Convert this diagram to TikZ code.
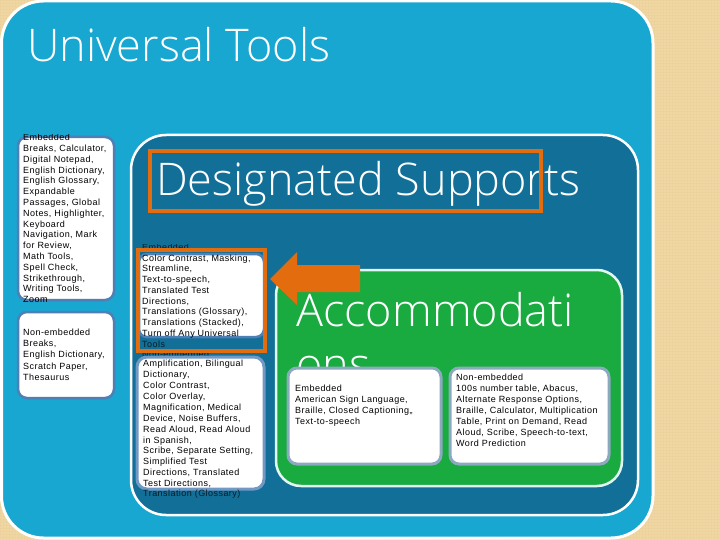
\documentclass[tikz,border=0pt]{standalone}
\usepackage{fontspec}
\setmainfont[LetterSpace=5]{Liberation Sans}
\newfontfamily\headfont{Open Sans Light}
\definecolor{tan}{HTML}{EFD6A3}
\definecolor{tandark}{HTML}{E3C486}
\definecolor{sky}{HTML}{17A7D1}
\definecolor{teal}{HTML}{126F97}
\definecolor{grn}{HTML}{19AB40}
\definecolor{org}{HTML}{E26C0E}
\definecolor{edgeA}{HTML}{4F7FB5}
\definecolor{edgeB}{HTML}{8BA9BF}
\definecolor{mint}{HTML}{E2F7F2}
\tikzset{
  x=1pt,y=-1pt,
  smallbox/.style={draw=edgeA,line width=2.5pt,fill=white,rounded corners=9pt},
  greybox/.style={draw=edgeB,line width=3pt,fill=white,rounded corners=9pt},
  body/.style={anchor=north west,inner sep=0pt,align=left,font=\fontsize{9}{10.9}\selectfont,text=black},
  dimbody/.style={body,text=black!75!teal},
  head/.style={anchor=base west,inner sep=0pt,text=white,font=\headfont\fontsize{45}{50}\selectfont},
  orangeframe/.style={draw=org,line width=4pt},
  weave/.style={tandark,line width=0.6pt,opacity=0.16}
}
\begin{document}
\begin{tikzpicture}
\useasboundingbox (0,0) rectangle (720,540);
\fill[tan] (0,0) rectangle (720,540);
\foreach \i in {0,3,...,720} {\draw[weave] (\i,0) -- (\i,540);}
\foreach \i in {0,3,...,540} {\draw[weave] (0,\i) -- (720,\i);}
\draw[white,line width=3pt,fill=sky,rounded corners=42pt] (1.5,1) rectangle (653,538);
\node[head] (t1) at (27,62) {Universal Tools};
% left boxes
\draw[smallbox] (18,137) rectangle (114,300);
\draw[smallbox] (18,312) rectangle (114,398);
\begin{scope}
\clip (15,135) rectangle (120,302);
\node[body,font=\fontsize{9}{10.8}\selectfont] (ut1) at (23,134) {Embedded\\Breaks, Calculator,\\Digital Notepad,\\English Dictionary,\\English Glossary,\\Expandable\\Passages, Global\\Notes, Highlighter,\\Keyboard\\Navigation, Mark\\for Review,\\Math Tools,\\Spell Check,\\Strikethrough,\\Writing Tools,\\Zoom};
\end{scope}
\node[body,font=\fontsize{9}{11.1}\selectfont] (ut2) at (23,329) {Non-embedded\\Breaks,\\English Dictionary,\\Scratch Paper,\\Thesaurus};
% designated
\draw[white,line width=2.5pt,fill=teal,rounded corners=35pt] (131,135) rectangle (638,515);
\node[head] (t2) at (156,196) {Designated Supports};
\begin{scope}
\clip (135,244) rectangle (270,252);
\node[dimbody] (d0) at (142,244) {Embedded};
\end{scope}
\draw[edgeA,line width=2.5pt,fill=white,rounded corners=8pt] (139,254) rectangle (264,337);
\fill[teal] (137,339) rectangle (266,351);
\node[body,font=\fontsize{9}{10.75}\selectfont] (d1) at (142,254.5) {Color Contrast, Masking,\\Streamline,\\Text-to-speech,\\Translated Test\\Directions,\\Translations (Glossary),\\Translations (Stacked),\\Turn off Any Universal};
\node[dimbody] (d1b) at (142,341) {Tools};
\begin{scope}
\clip (135,351) rectangle (270,356);
\node[dimbody] (d2) at (142,351) {Non-embedded};
\end{scope}
\draw[draw=edgeA!80!white,line width=3pt,fill=white,rounded corners=10pt] (137,357) rectangle (264,489);
\node[body] (d3) at (143,360) {Amplification, Bilingual\\Dictionary,\\Color Contrast,\\Color Overlay,\\Magnification, Medical\\Device, Noise Buffers,\\Read Aloud, Read Aloud\\in Spanish,\\Scribe, Separate Setting,\\Simplified Test\\Directions, Translated\\Test Directions,};
\node[dimbody] (d4) at (143,490) {Translation (Glossary)};
% green
\draw[mint,line width=2.5pt,fill=grn,rounded corners=25pt] (276,270) rectangle (622,486);
\node[head] (t3) at (296,326) {Accommodati};
\node[head] (t4) at (296,380) {ons};
\draw[greybox] (288,368) rectangle (441,464);
\draw[greybox] (450,368) rectangle (609,464);
\node[body] (a1) at (295,385) {Embedded\\American Sign Language,\\Braille, Closed Captioning,,\\Text-to-speech};
\node[body] (a2) at (456,374) {Non-embedded\\100s number table, Abacus,\\Alternate Response Options,\\Braille, Calculator, Multiplication\\Table, Print on Demand, Read\\Aloud, Scribe, Speech-to-text,\\Word Prediction};
% orange frames
\draw[orangeframe] (150,151) rectangle (541,211);
\draw[orangeframe] (138,250) rectangle (265,351);
\fill[org] (270,279) -- (297,252) -- (297,265) -- (360,265) -- (360,292) -- (297,292) -- (297,305) -- cycle;
\end{tikzpicture}
\end{document}
